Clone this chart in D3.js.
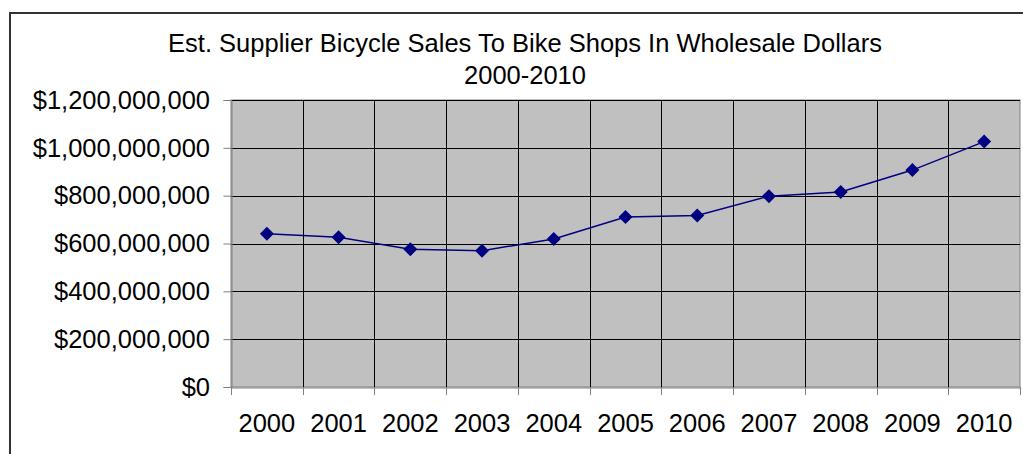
<!DOCTYPE html>
<html><head><meta charset="utf-8">
<script src="https://cdn.jsdelivr.net/npm/d3@7"></script>
<style>body{margin:0;background:#fff;} svg{display:block;}</style>
</head><body>
<svg id="c" width="1023" height="454"></svg>
<script>
const years = ["2000","2001","2002","2003","2004","2005","2006","2007","2008","2009","2010"];
const sales = [641000000,626000000,576000000,570000000,619000000,711000000,717000000,798000000,815000000,907000000,1026000000];
const yTicks = [0,200000000,400000000,600000000,800000000,1000000000,1200000000];
const titleLines = ["Est. Supplier Bicycle Sales To Bike Shops In Wholesale Dollars","2000-2010"];

const svg = d3.select("#c");
const font = "'Liberation Sans', Arial, sans-serif";
const fs = 25.5;
const L = 231, R = 1020, T = 100, B = 387;

// outer chart border
svg.append("rect").attr("x",10).attr("y",13).attr("width",1040).attr("height",480)
  .attr("fill","none").attr("stroke","#333").attr("stroke-width",2);

const x = d3.scaleBand().domain(years).range([L,R]).padding(0);
const y = d3.scaleLinear().domain([0,1200000000]).range([B,T]);

svg.append("rect").attr("x",L).attr("y",T).attr("width",R-L).attr("height",B-T)
  .attr("fill","#c0c0c0").attr("stroke","#808080").attr("stroke-width",1);

// gridlines
const g = svg.append("g");
g.selectAll("line.h").data(yTicks.slice(1)).join("line")
  .attr("x1",L).attr("x2",R).attr("y1",d=>Math.round(y(d))+0.5).attr("y2",d=>Math.round(y(d))+0.5)
  .attr("stroke","#000").attr("stroke-width",1);
g.selectAll("line.v").data(years.slice(1)).join("line")
  .attr("x1",d=>Math.round(x(d))+0.5).attr("x2",d=>Math.round(x(d))+0.5).attr("y1",T).attr("y2",B)
  .attr("stroke","#000").attr("stroke-width",1);

// y axis
const fmt = d => "$" + d3.format(",")(d);
const yAxis = d3.axisLeft(y).tickValues(yTicks).tickFormat(fmt).tickSize(8).tickPadding(13.5);
const ya = svg.append("g").attr("transform",`translate(${L+0.5},0)`).call(yAxis);
ya.select(".domain").attr("stroke","#808080");
ya.selectAll(".tick line").attr("stroke","#808080");
ya.selectAll("text").attr("font-family",font).attr("font-size",fs).attr("fill","#000");

// x axis
const xa = svg.append("g").attr("transform",`translate(0,${B+0.5})`).call(d3.axisBottom(x).tickSize(0).tickPadding(26));
xa.select(".domain").attr("stroke","#808080");
xa.selectAll(".tick line").remove();
xa.selectAll("text").attr("font-family",font).attr("font-size",fs).attr("fill","#000");
// x tick marks at band edges
const edges = years.map(d=>x(d)).concat([R]);
svg.append("g").selectAll("line").data(edges).join("line")
  .attr("x1",d=>Math.round(d)+0.5).attr("x2",d=>Math.round(d)+0.5).attr("y1",B).attr("y2",B+8)
  .attr("stroke","#808080");

// line + markers
const cx = d => x(d) + x.bandwidth()/2;
const line = d3.line().x((d,i)=>cx(years[i])).y(d=>y(d));
svg.append("path").datum(sales).attr("d",line).attr("fill","none").attr("stroke","#000080").attr("stroke-width",1.5);
const sym = d3.symbol().type(d3.symbolDiamond2).size(125);
svg.append("g").selectAll("path").data(sales).join("path")
  .attr("d",sym).attr("transform",(d,i)=>`translate(${cx(years[i])},${y(d)})`)
  .attr("fill","#000080");

// title
svg.append("text").attr("x",525).attr("y",52).attr("text-anchor","middle")
  .attr("font-family",font).attr("font-size",fs).attr("fill","#000").text(titleLines[0]);
svg.append("text").attr("x",525).attr("y",84).attr("text-anchor","middle")
  .attr("font-family",font).attr("font-size",fs).attr("fill","#000").text(titleLines[1]);
</script>
</body></html>
